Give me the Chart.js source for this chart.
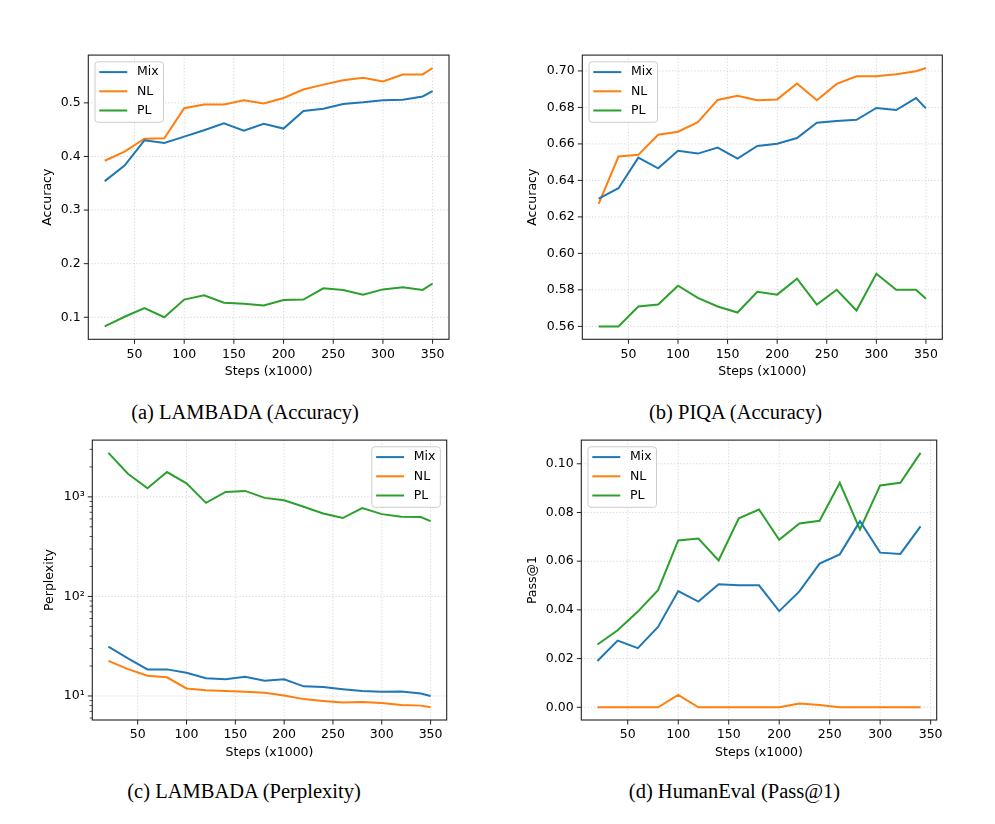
<!DOCTYPE html>
<html><head><meta charset="utf-8">
<script src="https://cdn.jsdelivr.net/npm/chart.js@4.4.1/dist/chart.umd.min.js"></script>
<style>
html,body{margin:0;padding:0;background:#fff;}
body{width:995px;height:824px;position:relative;overflow:hidden;}
canvas{position:absolute;}
.cap{position:absolute;width:400px;text-align:center;font-family:"Liberation Serif","Times New Roman",serif;font-size:20.5px;line-height:24px;color:#000;white-space:nowrap;}
</style></head><body>
<canvas id="ca"></canvas>
<canvas id="cb"></canvas>
<canvas id="cc"></canvas>
<canvas id="cd"></canvas>
<div class="cap" style="left:45px;top:400px">(a) LAMBADA (Accuracy)</div>
<div class="cap" style="left:535.5px;top:400px">(b) PIQA (Accuracy)</div>
<div class="cap" style="left:44px;top:779px">(c) LAMBADA (Perplexity)</div>
<div class="cap" style="left:534.5px;top:779px">(d) HumanEval (Pass@1)</div>
<script>
// ---------- data ----------
const steps = [20,40,60,80,100,120,140,160,180,200,220,240,260,280,300,320,340,350];
const stepsHumanEval = [20,40,60,80,100,120,140,160,180,200,220,240,260,280,300,320,340];
const seriesLabels = ['Mix','NL','PL'];

const lambadaAccMix = [0.354,0.383,0.430,0.425,0.437,0.449,0.462,0.448,0.461,0.452,0.485,0.489,0.498,0.501,0.505,0.506,0.512,0.522];
const lambadaAccNL  = [0.392,0.409,0.433,0.434,0.490,0.497,0.497,0.505,0.499,0.509,0.525,0.534,0.542,0.547,0.540,0.553,0.553,0.565];
const lambadaAccPL  = [0.083,0.101,0.117,0.100,0.133,0.141,0.127,0.125,0.122,0.132,0.133,0.154,0.151,0.142,0.152,0.156,0.151,0.163];

const piqaMix = [0.6300,0.6357,0.6525,0.6466,0.6562,0.6547,0.6580,0.6520,0.6589,0.6601,0.6632,0.6716,0.6726,0.6732,0.6797,0.6786,0.6851,0.6795];
const piqaNL  = [0.6272,0.6531,0.6540,0.6650,0.6667,0.6719,0.6841,0.6864,0.6839,0.6844,0.6931,0.6839,0.6929,0.6971,0.6971,0.6982,0.6998,0.7016];
const piqaPL  = [0.5600,0.5600,0.5709,0.5720,0.5823,0.5756,0.5709,0.5676,0.5790,0.5774,0.5861,0.5720,0.5801,0.5687,0.5888,0.5801,0.5801,0.5751];

const lambadaPplMix = [31.3,23.9,18.5,18.5,17.1,15.1,14.7,15.6,14.2,14.7,12.5,12.3,11.7,11.2,11.0,11.1,10.6,10.0];
const lambadaPplNL  = [22.5,18.6,16.0,15.4,11.9,11.4,11.2,11.0,10.8,10.1,9.3,8.9,8.6,8.7,8.5,8.1,8.0,7.7];
const lambadaPplPL  = [2770,1710,1220,1775,1370,871,1121,1148,977,926,795,682,613,771,671,632,628,571];

const humanEvalMix = [0.0190,0.0274,0.0243,0.0330,0.0477,0.0434,0.0505,0.0501,0.0501,0.0395,0.0476,0.0590,0.0628,0.0764,0.0635,0.0630,0.0743];
const humanEvalNL  = [0,0,0,0,0.0051,0,0,0,0,0,0.0015,0.0009,0,0,0,0,0];
const humanEvalPL  = [0.0258,0.0316,0.0393,0.0481,0.0685,0.0693,0.0603,0.0776,0.0812,0.0688,0.0755,0.0766,0.0922,0.0730,0.0911,0.0922,0.1045];

// ---------- tick labels ----------
const xTicks = [50,100,150,200,250,300,350];
const xTickLabels = ['50','100','150','200','250','300','350'];
const lambadaAccTicks = [0.1,0.2,0.3,0.4,0.5];
const lambadaAccTickLabels = ['0.1','0.2','0.3','0.4','0.5'];
const piqaTicks = [0.56,0.58,0.60,0.62,0.64,0.66,0.68,0.70];
const piqaTickLabels = ['0.56','0.58','0.60','0.62','0.64','0.66','0.68','0.70'];
const pplTicks = [10,100,1000];
const pplTickLabels = ['10\u00B9','10\u00B2','10\u00B3'];
const humanEvalTicks = [0.00,0.02,0.04,0.06,0.08,0.10];
const humanEvalTickLabels = ['0.00','0.02','0.04','0.06','0.08','0.10'];

// ---------- styling ----------
const colors = ['#1f77b4','#ff7f0e','#2ca02c'];
const FONT = 'DejaVu Sans';
const FS = 12.5;
Chart.defaults.font.family = FONT;
Chart.defaults.font.size = FS;
Chart.defaults.color = '#000';

function mplRange(vals, log) {
  let lo = Math.min(...vals), hi = Math.max(...vals);
  if (log) {
    lo = Math.log10(lo); hi = Math.log10(hi);
    const p = (hi - lo) * 0.05;
    return [Math.pow(10, lo - p), Math.pow(10, hi + p)];
  }
  const p = (hi - lo) * 0.05;
  return [lo - p, hi + p];
}

function minorLogTicks(min, max) {
  const out = [];
  for (let d = Math.floor(Math.log10(min)); d <= Math.ceil(Math.log10(max)); d++) {
    for (let k = 2; k <= 9; k++) {
      const v = k * Math.pow(10, d);
      if (v >= min && v <= max) out.push(v);
    }
  }
  return out;
}

const mplPlugin = {
  id: 'mpl',
  beforeDatasetsDraw(chart, args, o) {
    const {ctx, chartArea: a, scales: {x, y}} = chart;
    ctx.save();
    ctx.strokeStyle = '#cccccc';
    ctx.lineWidth = 0.8;
    ctx.setLineDash([1.2, 2]);
    x.ticks.forEach(t => {
      const p = x.getPixelForValue(t.value);
      ctx.beginPath(); ctx.moveTo(p, a.top); ctx.lineTo(p, a.bottom); ctx.stroke();
    });
    y.ticks.forEach(t => {
      const p = y.getPixelForValue(t.value);
      ctx.beginPath(); ctx.moveTo(a.left, p); ctx.lineTo(a.right, p); ctx.stroke();
    });
    ctx.restore();
  },
  afterDatasetsDraw(chart, args, o) {
    const {ctx, chartArea: a, scales: {x, y}} = chart;
    ctx.save();
    ctx.strokeStyle = '#222';
    ctx.lineWidth = 1.1;
    ctx.strokeRect(a.left, a.top, a.right - a.left, a.bottom - a.top);
    ctx.lineWidth = 1;
    x.ticks.forEach(t => {
      const p = x.getPixelForValue(t.value);
      ctx.beginPath(); ctx.moveTo(p, a.bottom); ctx.lineTo(p, a.bottom + 4.5); ctx.stroke();
    });
    y.ticks.forEach(t => {
      const p = y.getPixelForValue(t.value);
      ctx.beginPath(); ctx.moveTo(a.left - 4.5, p); ctx.lineTo(a.left, p); ctx.stroke();
    });
    if (o.minorY) {
      ctx.lineWidth = 0.8;
      o.minorY.forEach(v => {
        const p = y.getPixelForValue(v);
        ctx.beginPath(); ctx.moveTo(a.left - 2.7, p); ctx.lineTo(a.left, p); ctx.stroke();
      });
    }
    // legend
    const W = 68.5, H = 60.5;
    const lx = o.legend === 'ur' ? a.right - 6.4 - W : a.left + 6.7;
    const ly = a.top + 6.7;
    const r = 3;
    ctx.beginPath();
    ctx.moveTo(lx + r, ly); ctx.lineTo(lx + W - r, ly); ctx.arcTo(lx + W, ly, lx + W, ly + r, r);
    ctx.lineTo(lx + W, ly + H - r); ctx.arcTo(lx + W, ly + H, lx + W - r, ly + H, r);
    ctx.lineTo(lx + r, ly + H); ctx.arcTo(lx, ly + H, lx, ly + H - r, r);
    ctx.lineTo(lx, ly + r); ctx.arcTo(lx, ly, lx + r, ly, r);
    ctx.closePath();
    ctx.fillStyle = 'rgba(255,255,255,0.8)';
    ctx.fill();
    ctx.strokeStyle = '#cccccc'; ctx.lineWidth = 1;
    ctx.stroke();
    ctx.font = FS + 'px "' + FONT + '"';
    ctx.textBaseline = 'middle'; ctx.textAlign = 'left';
    chart.data.datasets.forEach((ds, i) => {
      const yy = ly + 10.3 + i * 19.2;
      ctx.strokeStyle = ds.borderColor; ctx.lineWidth = 2;
      ctx.beginPath(); ctx.moveTo(lx + 4.3, yy); ctx.lineTo(lx + 32.3, yy); ctx.stroke();
      ctx.fillStyle = '#000';
      ctx.fillText(ds.label, lx + 42, yy);
    });
    ctx.restore();
  }
};

function panel(id, box, area, cfg) {
  const cv = document.getElementById(id);
  cv.width = box.w; cv.height = box.h;
  cv.style.left = box.x + 'px'; cv.style.top = box.y + 'px';
  cv.style.width = box.w + 'px'; cv.style.height = box.h + 'px';
  const yW = area.l - box.x, xH = 40;
  const xr = mplRange(cfg.x, false);
  const allY = [].concat(...cfg.series);
  const yr = mplRange(allY, cfg.log);
  const minorY = cfg.log ? minorLogTicks(yr[0], yr[1]) : null;
  new Chart(cv, {
    type: 'line',
    data: {
      datasets: cfg.series.map((vals, si) => ({
        label: seriesLabels[si],
        data: cfg.x.map((xv, i) => ({x: xv, y: vals[i]})),
        borderColor: colors[si], backgroundColor: colors[si],
        borderWidth: 2, pointRadius: 0, tension: 0, fill: false
      }))
    },
    options: {
      responsive: false, animation: false, events: [],
      layout: {padding: {left: 0, top: area.t - box.y, right: box.x + box.w - area.r, bottom: box.y + box.h - area.b - xH}},
      plugins: {legend: {display: false}, tooltip: {enabled: false}, mpl: {legend: cfg.legend, minorY}},
      scales: {
        x: {
          type: 'linear', min: xr[0], max: xr[1],
          afterFit: s => { s.height = xH; },
          afterBuildTicks: s => { s.ticks = xTicks.map(v => ({value: v})); },
          ticks: {maxRotation: 0, minRotation: 0, autoSkip: false, padding: 7.5, callback: (v, i) => xTickLabels[i]},
          grid: {display: false, drawTicks: false},
          border: {display: false},
          title: {display: true, text: 'Steps (x1000)', padding: {top: 0, bottom: 0}}
        },
        y: {
          type: cfg.log ? 'logarithmic' : 'linear', min: yr[0], max: yr[1],
          afterFit: s => { s.width = yW; },
          afterBuildTicks: s => { s.ticks = cfg.yTicks.map(v => ({value: v})); },
          ticks: {autoSkip: false, padding: 7.6, callback: (v, i) => cfg.yLabels[i]},
          grid: {display: false, drawTicks: false},
          border: {display: false},
          title: {display: true, text: cfg.yTitle, padding: {top: cfg.titlePad, bottom: 0}}
        }
      }
    },
    plugins: [mplPlugin]
  });
}

panel('ca', {x: 30, y: 40, w: 440, h: 345}, {l: 88.3, t: 53.3, r: 449, b: 339.3},
  {x: steps, series: [lambadaAccMix, lambadaAccNL, lambadaAccPL], yTicks: lambadaAccTicks, yLabels: lambadaAccTickLabels, yTitle: 'Accuracy', titlePad: 10.5, legend: 'ul'});
panel('cb', {x: 520, y: 40, w: 450, h: 345}, {l: 582.3, t: 53.3, r: 942.3, b: 339.3},
  {x: steps, series: [piqaMix, piqaNL, piqaPL], yTicks: piqaTicks, yLabels: piqaTickLabels, yTitle: 'Accuracy', titlePad: 5.7, legend: 'ul'});
panel('cc', {x: 30, y: 425, w: 440, h: 345}, {l: 92.3, t: 436.7, r: 446.7, b: 720},
  {x: steps, series: [lambadaPplMix, lambadaPplNL, lambadaPplPL], yTicks: pplTicks, yLabels: pplTickLabels, yTitle: 'Perplexity', titlePad: 12, legend: 'ur', log: true});
panel('cd', {x: 520, y: 425, w: 450, h: 345}, {l: 581.3, t: 436.7, r: 936.7, b: 720},
  {x: stepsHumanEval, series: [humanEvalMix, humanEvalNL, humanEvalPL], yTicks: humanEvalTicks, yLabels: humanEvalTickLabels, yTitle: 'Pass@1', titlePad: 5.3, legend: 'ul'});
</script>
</body></html>
